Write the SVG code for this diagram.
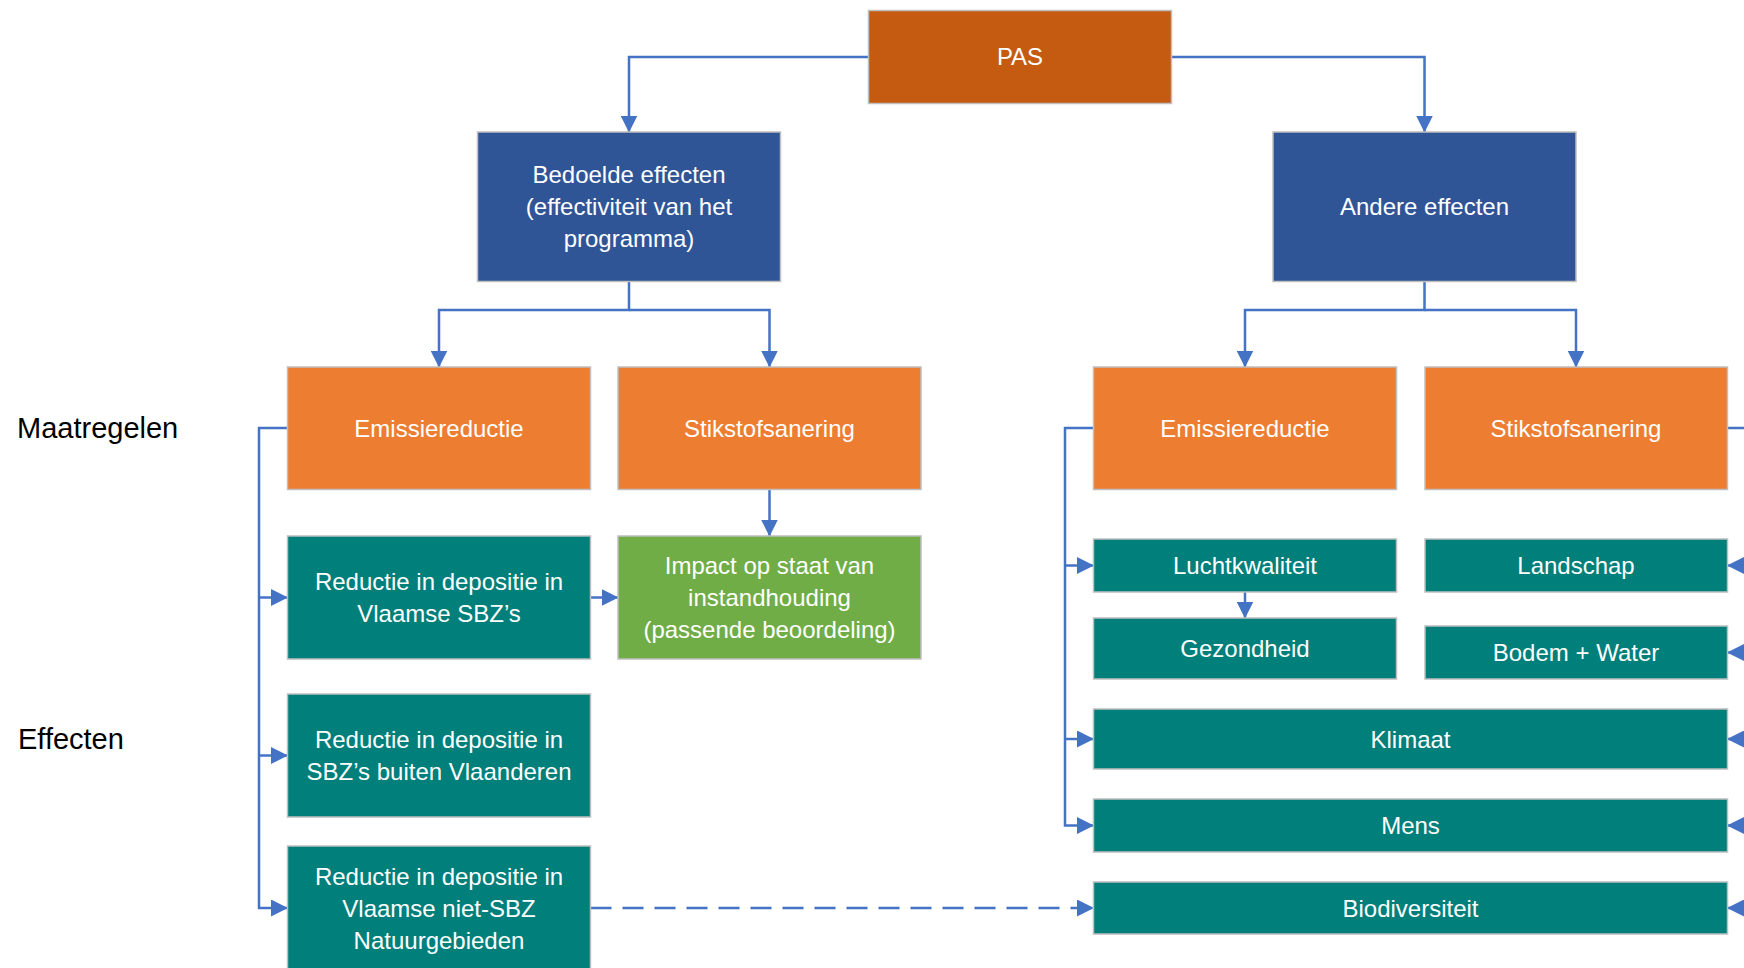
<svg xmlns="http://www.w3.org/2000/svg" width="1744" height="968" viewBox="0 0 1744 968">
<style>
.box{stroke:#BFBFBF;stroke-width:1.5}
.pas{fill:#C55A11}
.blue{fill:#2F5597}
.orange{fill:#ED7D31}
.teal{fill:#007F7B}
.green{fill:#70AD47}
.t{font-family:"Liberation Sans",Arial,sans-serif;font-size:24px;fill:#FFFFFF;text-anchor:middle}
.lbl{font-family:"Liberation Sans",Arial,sans-serif;font-size:29px;fill:#000000}
.c{fill:none;stroke:#4472C4;stroke-width:2.5}
.dash{stroke-dasharray:21 11}
</style>
<defs>
<marker id="ah" viewBox="0 0 17 17" markerWidth="17" markerHeight="17" refX="16.5" refY="8.5" orient="auto" markerUnits="userSpaceOnUse">
<path d="M0,0 L17,8.5 L0,17 z" fill="#4472C4"/>
</marker>
</defs>
<rect width="1744" height="968" fill="#FFFFFF"/>

<g id="connectors">
<path class="c" d="M868.5,57 H629 V132" marker-end="url(#ah)"/>
<path class="c" d="M1171.5,57 H1424.5 V132" marker-end="url(#ah)"/>
<path class="c" d="M629,281.5 V310 H439 V367" marker-end="url(#ah)"/>
<path class="c" d="M629,310 H769.5 V367" marker-end="url(#ah)"/>
<path class="c" d="M1424.5,281.5 V310 H1245 V367" marker-end="url(#ah)"/>
<path class="c" d="M1424.5,310 H1576 V367" marker-end="url(#ah)"/>
<path class="c" d="M287.5,428 H259 V908 H287.5" marker-end="url(#ah)"/>
<path class="c" d="M259,597.5 H287.5" marker-end="url(#ah)"/>
<path class="c" d="M259,755.5 H287.5" marker-end="url(#ah)"/>
<path class="c" d="M769.5,489.5 V536" marker-end="url(#ah)"/>
<path class="c" d="M590.5,597.5 H618" marker-end="url(#ah)"/>
<path class="c dash" d="M590.5,908 H1093.5" marker-end="url(#ah)"/>
<path class="c" d="M1093.5,428 H1065 V825.5 H1093.5" marker-end="url(#ah)"/>
<path class="c" d="M1065,565.5 H1093.5" marker-end="url(#ah)"/>
<path class="c" d="M1065,739 H1093.5" marker-end="url(#ah)"/>
<path class="c" d="M1245,592 V618" marker-end="url(#ah)"/>
<path class="c" d="M1727.5,428 H1770 V908 H1727.5" marker-end="url(#ah)"/>
<path class="c" d="M1770,565.5 H1727.5" marker-end="url(#ah)"/>
<path class="c" d="M1770,652.5 H1727.5" marker-end="url(#ah)"/>
<path class="c" d="M1770,739 H1727.5" marker-end="url(#ah)"/>
<path class="c" d="M1770,825.5 H1727.5" marker-end="url(#ah)"/>
</g>

<g id="label-maatregelen"><text class="lbl" x="17" y="438">Maatregelen</text></g>
<g id="label-effecten"><text class="lbl" x="18" y="749">Effecten</text></g>

<g id="pas">
<rect class="box pas" x="868.5" y="10.5" width="303" height="93"/>
<text class="t" x="1020" y="65">PAS</text>
</g>
<g id="bedoelde">
<rect class="box blue" x="477.5" y="132" width="303" height="149.5"/>
<text class="t" x="629" y="183">Bedoelde effecten</text>
<text class="t" x="629" y="215">(effectiviteit van het</text>
<text class="t" x="629" y="247">programma)</text>
</g>
<g id="andere">
<rect class="box blue" x="1273" y="132" width="303" height="149.5"/>
<text class="t" x="1424.5" y="215">Andere effecten</text>
</g>
<g id="emissie-links">
<rect class="box orange" x="287.5" y="367" width="303" height="122.5"/>
<text class="t" x="439" y="436.5">Emissiereductie</text>
</g>
<g id="stikstof-links">
<rect class="box orange" x="618" y="367" width="303" height="122.5"/>
<text class="t" x="769.5" y="436.5">Stikstofsanering</text>
</g>
<g id="emissie-rechts">
<rect class="box orange" x="1093.5" y="367" width="303" height="122.5"/>
<text class="t" x="1245" y="436.5">Emissiereductie</text>
</g>
<g id="stikstof-rechts">
<rect class="box orange" x="1425" y="367" width="302.5" height="122.5"/>
<text class="t" x="1576" y="436.5">Stikstofsanering</text>
</g>
<g id="reductie-sbz">
<rect class="box teal" x="287.5" y="536" width="303" height="123"/>
<text class="t" x="439" y="590">Reductie in depositie in</text>
<text class="t" x="439" y="622">Vlaamse SBZ’s</text>
</g>
<g id="impact">
<rect class="box green" x="618" y="536" width="303" height="123"/>
<text class="t" x="769.5" y="574">Impact op staat van</text>
<text class="t" x="769.5" y="606">instandhouding</text>
<text class="t" x="769.5" y="638">(passende beoordeling)</text>
</g>
<g id="reductie-buiten">
<rect class="box teal" x="287.5" y="694" width="303" height="123"/>
<text class="t" x="439" y="748">Reductie in depositie in</text>
<text class="t" x="439" y="780">SBZ’s buiten Vlaanderen</text>
</g>
<g id="reductie-niet-sbz">
<rect class="box teal" x="287.5" y="846" width="303" height="124"/>
<text class="t" x="439" y="885">Reductie in depositie in</text>
<text class="t" x="439" y="917">Vlaamse niet-SBZ</text>
<text class="t" x="439" y="949">Natuurgebieden</text>
</g>
<g id="luchtkwaliteit">
<rect class="box teal" x="1093.5" y="539" width="303" height="53"/>
<text class="t" x="1245" y="574">Luchtkwaliteit</text>
</g>
<g id="landschap">
<rect class="box teal" x="1425" y="539" width="302.5" height="53"/>
<text class="t" x="1576" y="574">Landschap</text>
</g>
<g id="gezondheid">
<rect class="box teal" x="1093.5" y="618" width="303" height="61"/>
<text class="t" x="1245" y="657">Gezondheid</text>
</g>
<g id="bodem-water">
<rect class="box teal" x="1425" y="626" width="302.5" height="53"/>
<text class="t" x="1576" y="661">Bodem + Water</text>
</g>
<g id="klimaat">
<rect class="box teal" x="1093.5" y="709" width="634" height="60"/>
<text class="t" x="1410.5" y="747.5">Klimaat</text>
</g>
<g id="mens">
<rect class="box teal" x="1093.5" y="799" width="634" height="53"/>
<text class="t" x="1410.5" y="834">Mens</text>
</g>
<g id="biodiversiteit">
<rect class="box teal" x="1093.5" y="882" width="634" height="52"/>
<text class="t" x="1410.5" y="916.5">Biodiversiteit</text>
</g>
</svg>
